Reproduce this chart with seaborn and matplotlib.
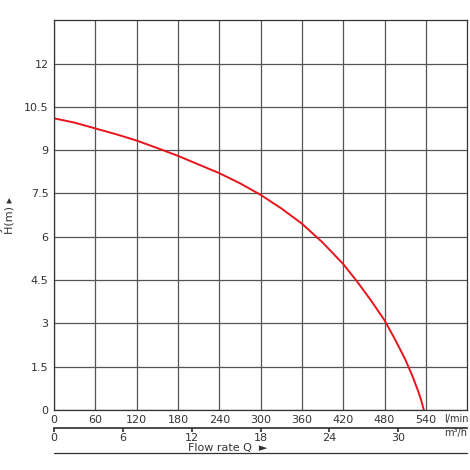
import matplotlib
matplotlib.use("Agg")
import matplotlib.pyplot as plt
import seaborn as sns
import pandas as pd
from matplotlib.lines import Line2D

sns.set_theme(style="white")
plt.rcParams['font.family'] = ['DejaVu Sans']

# curve (l/min -> m)
flow_lpm = [0, 30, 60, 90, 120, 150, 180, 210, 240, 270, 300, 330, 360, 390, 420,
            440, 460, 480, 495, 510, 520, 528, 533, 537]
head_m = [10.1, 9.95, 9.75, 9.55, 9.33, 9.07, 8.8, 8.5, 8.2, 7.85, 7.45, 6.98, 6.45,
          5.8, 5.05, 4.45, 3.8, 3.1, 2.45, 1.75, 1.2, 0.7, 0.35, 0.0]
lpm_ticks = [0, 60, 120, 180, 240, 300, 360, 420, 480, 540]
m3h_ticks = [0, 6, 12, 18, 24, 30]
head_ticks = [0, 1.5, 3, 4.5, 6, 7.5, 9, 10.5, 12]

df = pd.DataFrame({"Q": flow_lpm, "H": head_m})

fig = plt.figure(figsize=(4.7, 4.7), dpi=100)
ax = fig.add_axes([0.115, 0.128, 0.879, 0.829])
sns.lineplot(data=df, x="Q", y="H", color="#e8141c", linewidth=1.4, ax=ax)

ax.set_xlim(0, 600)
ax.set_ylim(0, 13.5)
ax.set_xticks(lpm_ticks)
ax.set_yticks(head_ticks)
ax.set_yticklabels([f"{v:g}" for v in head_ticks])
ax.grid(True, color="#555555", linewidth=0.9)
for s in ax.spines.values():
    s.set_color("#333333")
    s.set_linewidth(0.9)
ax.tick_params(labelsize=8, colors="#333333", length=3, pad=1, direction="out")
ax.set_xlabel("")
ax.set_ylabel("Total dynamic head\nH(m) \u25b8", fontsize=8, color="#333333")
ax.yaxis.set_label_coords(-0.095, 0.5)

sec = ax.secondary_xaxis(-0.046, functions=(lambda q: q * 0.06, lambda m: m / 0.06))
sec.set_xticks(m3h_ticks)
sec.tick_params(labelsize=8, colors="#333333", length=3, pad=1)
sec.spines["bottom"].set_color("#333333")

fig.text(0.945, 0.103, "l/min", fontsize=7, color="#333333")
fig.text(0.945, 0.072, "m\u00b3/h", fontsize=7, color="#333333")
fig.text(0.40, 0.040, "Flow rate Q  \u25ba", fontsize=8, color="#333333")
fig.add_artist(Line2D([0.115, 0.994], [0.036, 0.036], color="#333333", linewidth=0.9))

fig.savefig("out.png", dpi=100)
